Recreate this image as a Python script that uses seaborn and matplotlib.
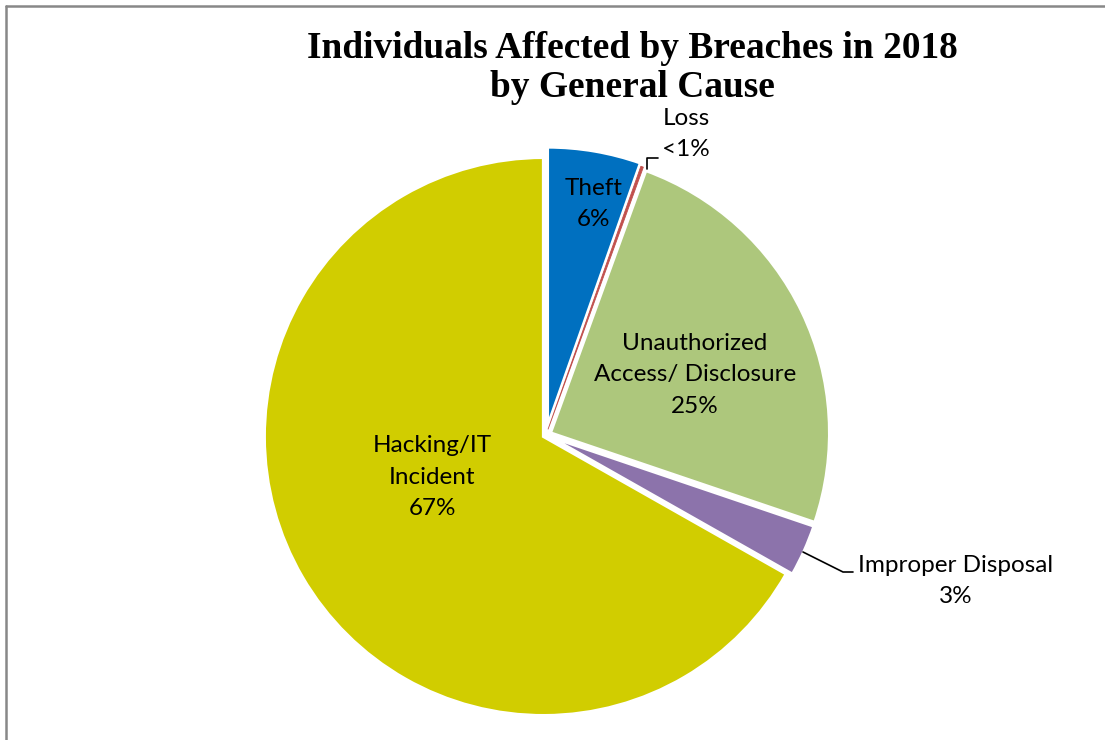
import matplotlib
matplotlib.use("Agg")
import matplotlib.pyplot as plt
from matplotlib.lines import Line2D
import seaborn as sns
import numpy as np

# ---- data ----
categories = ["Theft", "Loss", "Unauthorized\nAccess/ Disclosure", "Improper Disposal", "Hacking/IT\nIncident"]
values = [5.4, 0.15, 24.65, 3.0, 66.8]
pct_labels = ["6%", "<1%", "25%", "3%", "67%"]
colors_hex = ["#0070C0", "#C0504D", "#ADC77C", "#8C73AB", "#D1CD00"]
explode_px = [9, 6, 5, 4, 3]

sns.set_theme(style="white")
plt.rcParams["font.family"] = ["Lato", "DejaVu Sans"]

W, H = 1105, 740
fig = plt.figure(figsize=(W / 100, H / 100), dpi=100)
fig.patch.set_facecolor("white")
ax = fig.add_axes([0, 0, 1, 1])

palette = sns.color_palette(colors_hex)
cx, cy, R = 546, H - 435, 279
wedges, _ = ax.pie(values, colors=palette, startangle=90, counterclock=False,
                   explode=explode_px, center=(cx, cy), radius=R, frame=True,
                   wedgeprops=dict(edgecolor="white", linewidth=2.2))
wedges[1].set_edgecolor(colors_hex[1])
wedges[1].set_linewidth(0.6)
wedges[1].set_zorder(5)
ax.set_xlim(0, W)
ax.set_ylim(0, H)
ax.axis("off")
ax.set_aspect("equal")

fs = 17.5
def lab(x, y, s):
    ax.text(x, H - y, s, ha="center", va="center", fontsize=fs, color="black",
            linespacing=1.6)

lab(594, 204, categories[0] + "\n" + pct_labels[0])
lab(686, 134, categories[1] + "\n" + pct_labels[1])
lab(695, 375, categories[2] + "\n" + pct_labels[2])
lab(956, 581, categories[3] + "\n" + pct_labels[3])
lab(432, 477, categories[4] + "\n" + pct_labels[4])

# leader lines
ax.plot([647, 647, 658], [H - 169, H - 158, H - 158], color="black", lw=1.2)
ax.plot([803, 843, 853], [H - 552, H - 572, H - 572], color="black", lw=1.2)

# title
fig.text(632 / W, 1 - 68 / H, "Individuals Affected by Breaches in 2018\nby General Cause",
         ha="center", va="center", fontsize=26.9, fontweight="bold", color="black",
         family=["Liberation Serif", "DejaVu Serif"], linespacing=1.18)

# chart border (left and top)
fig.add_artist(Line2D([6 / W, 6 / W], [0, 1 - 6 / H], transform=fig.transFigure,
                      color="#888888", lw=1.8))
fig.add_artist(Line2D([6 / W, 1], [1 - 6 / H, 1 - 6 / H], transform=fig.transFigure,
                      color="#888888", lw=1.8))

fig.savefig("out.png", dpi=100, facecolor="white")
